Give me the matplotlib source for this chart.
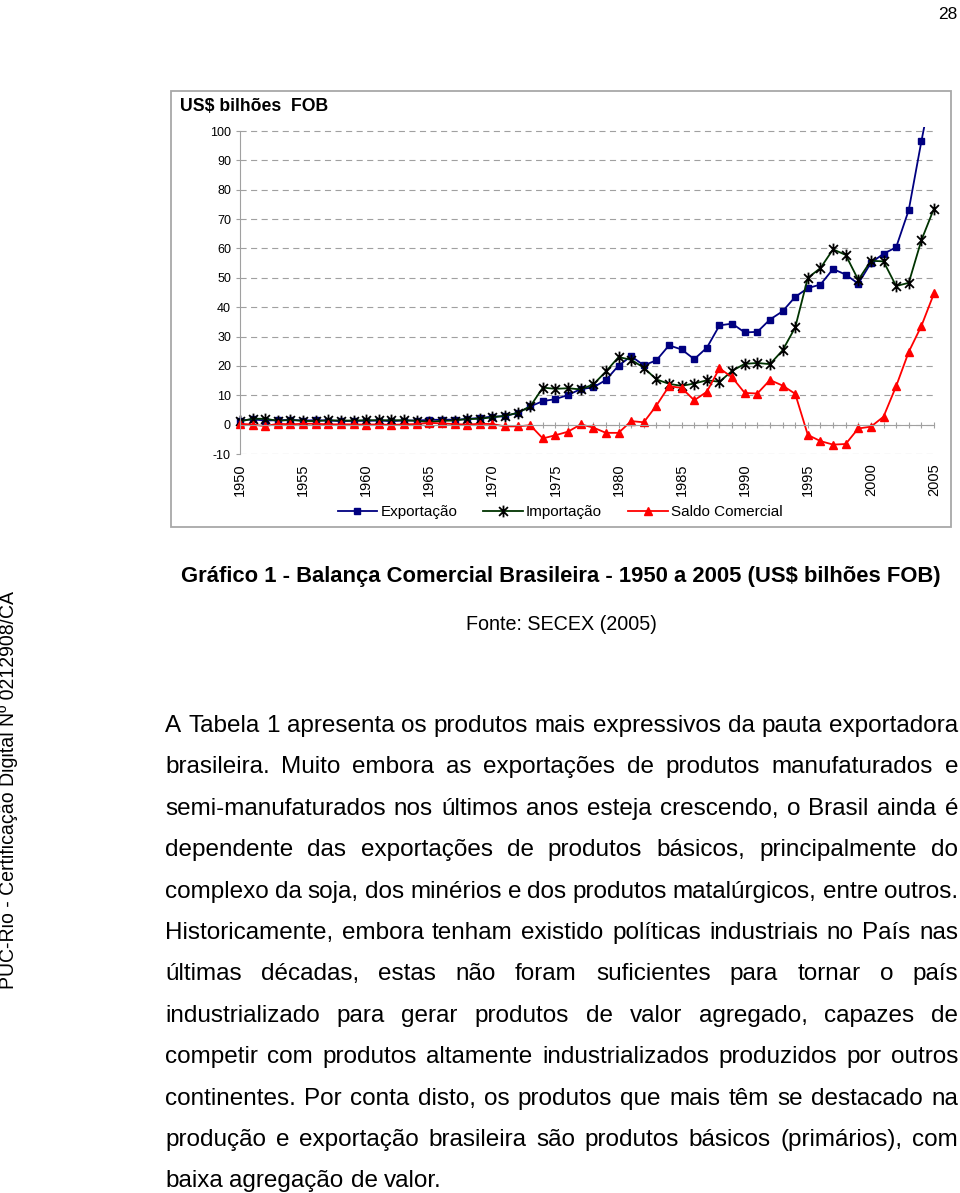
"""
Balança Comercial Brasileira 1950-2005 (exportação, importação, saldo),
reproduced as the scanned thesis page: chart box, caption, source and
the justified paragraph below it.
"""
import matplotlib
matplotlib.use("Agg")
import matplotlib.pyplot as plt
from matplotlib.path import Path
from matplotlib.patches import Rectangle

plt.rcParams["font.family"] = ["Liberation Sans", "DejaVu Sans"]

# ---------------------------------------------------------------
# Data (US$ bilhões FOB)
# ---------------------------------------------------------------
years = list(range(1950, 2006))
exportacao = [1.4, 1.8, 1.4, 1.5, 1.6, 1.4, 1.5, 1.4, 1.2, 1.3,
              1.3, 1.4, 1.2, 1.4, 1.4, 1.6, 1.7, 1.7, 1.9, 2.3,
              2.7, 2.9, 4.0, 6.2, 8.0, 8.7, 10.1, 12.1, 12.7, 15.2,
              20.1, 23.3, 20.2, 21.9, 27.0, 25.6, 22.3, 26.2, 33.8, 34.4,
              31.4, 31.6, 35.8, 38.6, 43.5, 46.5, 47.7, 53.0, 51.1, 48.0,
              55.1, 58.2, 60.4, 73.1, 96.5, 118.3]
importacao = [1.1, 2.0, 2.0, 1.3, 1.6, 1.3, 1.2, 1.5, 1.4, 1.4,
              1.5, 1.5, 1.5, 1.5, 1.3, 0.9, 1.3, 1.4, 1.9, 2.0,
              2.5, 3.0, 4.0, 6.2, 12.6, 12.2, 12.4, 12.0, 13.7, 18.1,
              23.0, 22.1, 19.4, 15.4, 13.9, 13.2, 14.0, 15.1, 14.6, 18.3,
              20.7, 21.0, 20.6, 25.3, 33.1, 50.0, 53.3, 59.7, 57.8, 49.3,
              55.8, 55.6, 47.2, 48.3, 62.8, 73.6]
saldo = [0.3, 0.0, -0.5, 0.3, 0.1, 0.3, 0.3, 0.1, 0.1, 0.1,
         0.0, 0.1, -0.1, 0.1, 0.2, 0.6, 0.4, 0.2, 0.0, 0.3,
         0.2, -0.6, -0.6, -0.2, -4.7, -3.6, -2.4, 0.1, -1.0, -2.8,
         -2.8, 1.2, 0.8, 6.5, 13.1, 12.5, 8.3, 11.2, 19.2, 16.1,
         10.8, 10.6, 15.2, 13.3, 10.5, -3.5, -5.6, -6.8, -6.6, -1.3,
         -0.7, 2.7, 13.1, 24.8, 33.6, 44.7]
yticks = list(range(-10, 101, 10))
year_labels = list(range(1950, 2006, 5))

caption = "Gráfico 1 - Balança Comercial Brasileira - 1950 a 2005 (US$ bilhões FOB)"
source = "Fonte: SECEX (2005)"
side_note = "PUC-Rio - Certificação Digital Nº 0212908/CA"
body_lines = [
    "A Tabela 1 apresenta os produtos mais expressivos da pauta exportadora",
    "brasileira. Muito embora as exportações de produtos manufaturados e",
    "semi-manufaturados nos últimos anos esteja crescendo, o Brasil ainda é",
    "dependente das exportações de produtos básicos, principalmente do",
    "complexo da soja, dos minérios e dos produtos matalúrgicos, entre outros.",
    "Historicamente, embora tenham existido políticas industriais no País nas",
    "últimas décadas, estas não foram suficientes para tornar o país",
    "industrializado para gerar produtos de valor agregado, capazes de",
    "competir com produtos altamente industrializados produzidos por outros",
    "continentes. Por conta disto, os produtos que mais têm se destacado na",
    "produção e exportação brasileira são produtos básicos (primários), com",
    "baixa agregação de valor.",
]

W, H = 960, 1193
GRAY = "#a0a0a0"

fig = plt.figure(figsize=(W / 100, H / 100), dpi=100)
renderer = fig.canvas.get_renderer()


def fx(x):
    return x / W


def fy(y):
    return 1 - y / H


def text_width(s, size, weight="normal"):
    t = fig.text(0, 0, s, fontsize=size, fontweight=weight)
    w = t.get_window_extent(renderer).width
    t.remove()
    return w


def fit_size(s, width, weight="normal"):
    return 10 * width / text_width(s, 10, weight)


# ---------------------------------------------------------------
# Chart box and axes
# ---------------------------------------------------------------
fig.add_artist(Rectangle((fx(171), fy(527)), (951 - 171) / W, (527 - 91) / H,
                         transform=fig.transFigure, fill=False, ec="#a8a8a8", lw=1.3))

ymin, ymax = -10, 101.5
ax = fig.add_axes([fx(240), fy(454), (934 - 240) / W, (454 - 126.6) / H])
ax.set_xlim(1950, 2005)
ax.set_ylim(ymin, ymax)

for side in ["top", "right"]:
    ax.spines[side].set_visible(False)
ax.spines["left"].set_bounds(-10, 100)
ax.spines["left"].set_color(GRAY)
ax.spines["bottom"].set_position(("data", 0))
ax.spines["bottom"].set_color(GRAY)

ax.set_yticks(yticks)
ax.set_yticklabels([str(v) for v in yticks], fontsize=9)
ax.tick_params(axis="y", length=3, width=0.8, color=GRAY, pad=3.5)
ax.set_xticks(years)
ax.tick_params(axis="x", direction="inout", length=5, width=0.8, color=GRAY,
               labelbottom=False)
ax.yaxis.grid(True, linestyle=(0, (5.5, 4)), color=GRAY, lw=0.8)
ax.set_axisbelow(True)

sec = ax.secondary_xaxis("bottom")
sec.set_xticks(year_labels)
sec.set_xticklabels([str(y) for y in year_labels], rotation=90, fontsize=10.5)
sec.tick_params(length=0, pad=6.5)
sec.spines["bottom"].set_visible(False)

star = Path([(0, -1), (0, 1), (-0.75, -0.75), (0.75, 0.75), (-0.75, 0.75), (0.75, -0.75)],
            [Path.MOVETO, Path.LINETO] * 3)

ln_e, = ax.plot(years, exportacao, color="#000080", lw=1.3, marker="s", ms=4.3,
                mfc="#000080", mec="#000080", label="Exportação")
ln_i, = ax.plot(years, importacao, color="#003300", lw=1.3, marker=star, ms=8.5,
                mec="black", mew=1.3, mfc="none", label="Importação")
ln_s, = ax.plot(years, saldo, color="#ff0000", lw=1.3, marker="^", ms=5.5,
                mfc="#ff0000", mec="#ff0000", label="Saldo Comercial")
for ln in (ln_e, ln_i, ln_s):
    ln.set_clip_path(Rectangle((-0.02, -0.05), 1.04, 1.05, transform=ax.transAxes))

fig.legend(handles=[ln_e, ln_i, ln_s], loc="center", ncol=3, frameon=False,
           bbox_to_anchor=(fx(560), fy(512)), fontsize=11, handlelength=2.6,
           handletextpad=0.2, columnspacing=1.7)

fig.text(fx(180), fy(111), "US$ bilhões  FOB", fontsize=fit_size("US$ bilhões  FOB", 148, "bold"),
         fontweight="bold", va="baseline")

# ---------------------------------------------------------------
# Page texts
# ---------------------------------------------------------------
fig.text(fx(957), fy(19), "28", fontsize=12.5, ha="right", va="baseline")
fig.text(fx(9), fy(790), side_note, fontsize=fit_size(side_note, 400), rotation=90,
         ha="center", va="center")
fig.text(fx(561), fy(582), caption, fontsize=fit_size(caption, 758, "bold"),
         fontweight="bold", ha="center", va="baseline")
fig.text(fx(561), fy(630), source, fontsize=fit_size(source, 191), ha="center", va="baseline")

# justified paragraph, word by word
x0, x1 = 165, 958
size = fit_size(body_lines[0], x1 - x0)
space = text_width("a a", size) - text_width("aa", size)
for i, line in enumerate(body_lines):
    words = line.split()
    widths = [text_width(w, size) for w in words]
    if i < len(body_lines) - 1:
        gap = (x1 - x0 - sum(widths)) / (len(words) - 1)
    else:
        gap = space
    x = x0
    for w, wd in zip(words, widths):
        fig.text(fx(x), fy(732 + 41.4 * i), w, fontsize=size, va="baseline")
        x += wd + gap

fig.savefig("out.png", dpi=100)
